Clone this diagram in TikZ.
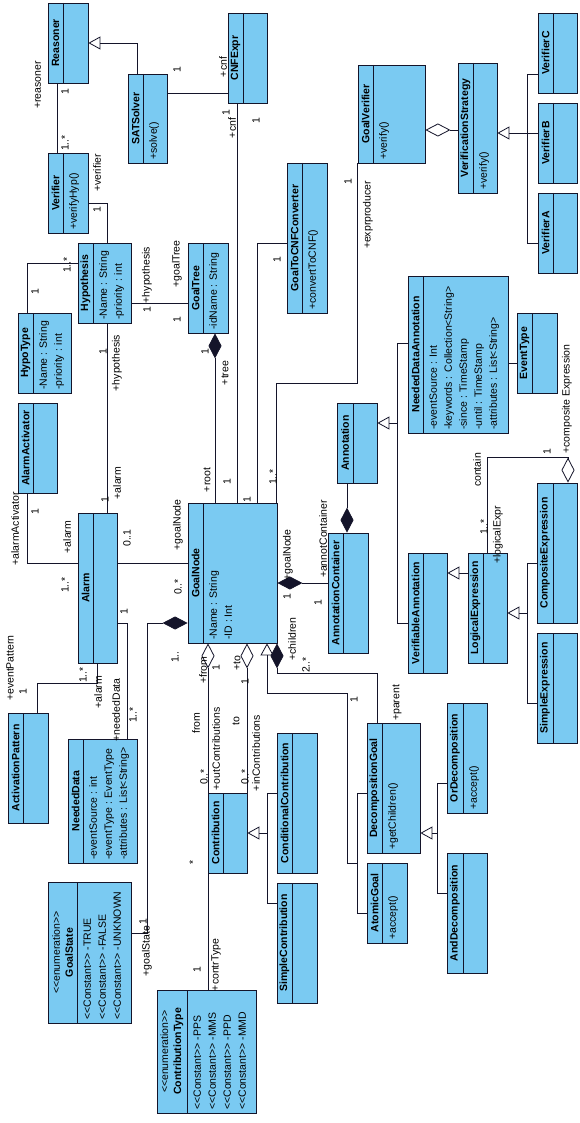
\documentclass[tikz,border=0pt]{standalone}
\usepackage{fontspec}
\setmainfont{Liberation Sans}
\usetikzlibrary{arrows.meta}
\definecolor{cFill}{RGB}{122,202,242}
\definecolor{cLine}{HTML}{14142A}
\newcommand{\st}[1]{<\kern0pt<#1>\kern0pt>}
\tikzset{
  cls/.style={rectangle,draw=cLine,line width=.8pt,fill=cFill,inner sep=0pt},
  clsname/.style={rotate=90,inner sep=0pt,align=center,
                  font=\fontsize{10.5}{13}\selectfont\bfseries},
  clsattr/.style={rotate=90,inner sep=0pt,anchor=base west,
                  font=\fontsize{10.5}{13}\selectfont},
  lbl/.style={rotate=90,inner sep=0pt,font=\fontsize{10.5}{13}\selectfont},
  conn/.style={line width=.8pt,draw=cLine},
  gen/.style={conn,-{Triangle[open,length=12pt,width=13pt]}},
  aggr/.style={conn,{Diamond[open,length=25pt,width=13pt]}-},
  comp/.style={conn,{Diamond[length=25pt,width=13pt]}-},
}
% name, x0, y0, x1, y1, split, title, attributes (pixel coordinates)
\newcommand{\umlclass}[8]{%
  \node[cls,minimum width={(#4-#2)*1pt},minimum height={(#5-#3)*1pt}]
    (#1) at ({(#2+#4)/2},{(#3+#5)/2}) {};
  \draw[conn] (#6,#3) -- (#6,#5);
  \node[clsname] (#1-t) at ({(#2+#6)/2},{(#3+#5)/2}) {#7};
  \if\relax\detokenize{#8}\relax\else
    \foreach \a [count=\i from 0] in {#8}
      {\node[clsattr] (#1-a\i) at ({#6+13.8+15*\i},{#5-3}) {\a};}%
  \fi}
\begin{document}
\begin{tikzpicture}[x=1pt,y=-1pt]
  \useasboundingbox (0,0) rectangle (580,1123);
  \fill[white] (0,0) rectangle (580,1123);
  % classes
  \umlclass{Reasoner}{48}{3}{88}{83}{63}{Reasoner}{}
  \umlclass{SATSolver}{128}{74}{167}{163}{143}{SATSolver}{+solve()}
  \umlclass{CNFExpr}{228}{13}{267}{103}{243}{CNFExpr}{}
  \umlclass{Verifier}{48}{153}{88}{233}{63}{Verifier}{+verifyHyp()}
  \umlclass{GoalVerifier}{358}{65}{425}{163}{373}{GoalVerifier}{+verify()}
  \umlclass{VerStrategy}{458}{63}{497}{193}{473}{VerificationStrategy}{+verify()}
  \umlclass{VerifierC}{538}{13}{577}{93}{553}{VerifierC}{}
  \umlclass{VerifierB}{538}{103}{577}{183}{553}{VerifierB}{}
  \umlclass{VerifierA}{538}{193}{577}{273}{553}{VerifierA}{}
  \umlclass{Hypothesis}{78}{243}{131}{323}{93}{Hypothesis}{-Name : String,-priority : int}
  \umlclass{HypoType}{18}{313}{71}{393}{33}{HypoType}{-Name : String,-priority : int}
  \umlclass{GoalTree}{188}{243}{228}{333}{203}{GoalTree}{-idName : String}
  \umlclass{Converter}{287}{163}{327}{313}{302}{GoalToCNFConverter}{+convertToCNF()}
  \umlclass{NDAnnot}{408}{276}{508}{433}{423}{NeededDataAnnotation}{-eventSource : Int,-keywords : Collection<String>,-since : TimeStamp,-until : TimeStamp,-attributes : List<String>}
  \umlclass{EventType}{517}{313}{557}{393}{532}{EventType}{}
  \umlclass{Annotation}{337}{403}{377}{483}{353}{Annotation}{}
  \umlclass{AlarmAct}{18}{403}{57}{493}{33}{AlarmActivator}{}
  \umlclass{Alarm}{78}{513}{117}{663}{93}{Alarm}{}
  \umlclass{GoalNode}{188}{503}{277}{643}{203}{GoalNode}{-Name : String,-ID : Int}
  \umlclass{AnnotCont}{328}{533}{368}{653}{343}{AnnotationContainer}{}
  \umlclass{VerAnnot}{408}{553}{447}{673}{423}{VerifiableAnnotation}{}
  \umlclass{LogicExpr}{468}{553}{507}{663}{483}{LogicalExpression}{}
  \umlclass{CompExpr}{537}{483}{577}{623}{553}{CompositeExpression}{}
  \umlclass{SimpleExpr}{537}{633}{577}{743}{553}{SimpleExpression}{}
  \umlclass{ActPattern}{8}{713}{48}{823}{23}{ActivationPattern}{}
  \umlclass{NeededData}{68}{739}{137}{863}{83}{NeededData}{-eventSource : int,-eventType : EventType,-attributes : List<String>}
  \umlclass{Contribution}{208}{793}{247}{873}{223}{Contribution}{}
  \umlclass{CondContr}{277}{733}{317}{873}{292}{ConditionalContribution}{}
  \umlclass{SimpleContr}{277}{883}{317}{1003}{292}{SimpleContribution}{}
  \umlclass{DecompGoal}{367}{723}{420}{853}{382}{DecompositionGoal}{+getChildren()}
  \umlclass{AtomicGoal}{367}{863}{407}{943}{382}{AtomicGoal}{+accept()}
  \umlclass{OrDecomp}{447}{703}{487}{813}{463}{OrDecomposition}{+accept()}
  \umlclass{AndDecomp}{447}{853}{487}{973}{463}{AndDecomposition}{}
  \umlclass{GoalState}{48}{882}{131}{1023}{77}{{\mdseries\st{enumeration}}\\GoalState}{\st{Constant} -TRUE,\st{Constant} -FALSE,\st{Constant} -UNKNOWN}
  \umlclass{ContrType}{157}{990}{256}{1113}{187}{{\mdseries\st{enumeration}}\\ContributionType}{\st{Constant} -PPS,\st{Constant} -MMS,\st{Constant} -PPD,\st{Constant} -MMD}
  % generalizations
  \draw[gen] (SATSolver.north -| 137,0) |- (Reasoner.east |- 0,43);
  \draw[conn] (VerifierC.west |- 0,74) -| (527,133);
  \draw[conn] (VerifierA.west |- 0,243) -| (527,133);
  \draw[gen] (VerifierB.west |- 0,133) -- (VerStrategy.east |- 0,133);
  \draw[conn] (VerAnnot.west |- 0,623) -| (397,423);
  \draw[gen] (NDAnnot.west |- 0,343) -| (397,423) -- (Annotation.east |- 0,423);
  \draw[gen] (LogicExpr.west |- 0,573) -- (VerAnnot.east |- 0,573);
  \draw[conn] (CompExpr.west |- 0,563) -| (527,613);
  \draw[gen] (SimpleExpr.west |- 0,703) -| (527,613) -- (LogicExpr.east |- 0,613);
  \draw[conn] (AtomicGoal.west |- 0,913) -| (357,793) -- (DecompGoal.west |- 0,793);
  \draw[gen] (357,863) -| (347,693) -| (GoalNode.south -| 267,0);
  \draw[conn] (AndDecomp.west |- 0,893) -| (437,833);
  \draw[gen] (OrDecomp.west |- 0,783) -| (437,833) -- (DecompGoal.east |- 0,833);
  \draw[conn] (SimpleContr.west |- 0,903) -| (267,833);
  \draw[gen] (CondContr.west |- 0,793) -| (267,833) -- (Contribution.east |- 0,833);
  % associations
  \draw[conn] (Reasoner.south -| 57,0) -- (Verifier.north -| 57,0);
  \draw[conn] (SATSolver.east |- 0,93) -- (CNFExpr.west |- 0,93);
  \draw[conn] (CNFExpr.south -| 237,0) -- (GoalNode.north -| 237,0);
  \draw[conn] (Verifier.east |- 0,203) -| (Hypothesis.north -| 107,0);
  \draw[conn] (Hypothesis.west |- 0,263) -| (HypoType.north -| 27,0);
  \draw[conn] (Hypothesis.east |- 0,303) -- (GoalTree.west |- 0,303);
  \draw[conn] (Hypothesis.south -| 107,0) -- (Alarm.north -| 107,0);
  \draw[conn] (Converter.west |- 0,243) -| (GoalNode.north -| 257,0);
  \draw[conn] (GoalVerifier.south -| 357,0) -- (357,383) -| (GoalNode.north -| 276,0);
  \draw[conn] (NDAnnot.east |- 0,363) -- (EventType.west |- 0,363);
  \draw[conn] (AlarmAct.south -| 27,0) |- (Alarm.west |- 0,563);
  \draw[conn] (Alarm.east |- 0,563) -- (GoalNode.west |- 0,563);
  \draw[conn] (Alarm.south -| 97,0) -- (97,683) -| (ActPattern.north -| 37,0);
  \draw[conn] (Alarm.east |- 0,623) -| (NeededData.north -| 127,0);
  \draw[conn] (Contribution.south -| 208,0) -- (ContrType.north -| 208,0);
  % aggregations and compositions
  \draw[aggr] (GoalVerifier.east |- 0,130) -- (VerStrategy.west |- 0,130);
  \draw[aggr] (CompExpr.north -| 568,0) -- ++(0,-25) -| (LogicExpr.north -| 487,0);
  \draw[aggr] (GoalNode.south -| 208,0) -- (Contribution.north -| 208,0);
  \draw[aggr] (GoalNode.south -| 247,0) -- (Contribution.north -| 247,0);
  \draw[comp] (GoalTree.south -| 215,0) -- (GoalNode.north -| 215,0);
  \draw[comp] (AnnotCont.north -| 347,0) -- (Annotation.south -| 347,0);
  \draw[comp] (GoalNode.east |- 0,583) -- (AnnotCont.west |- 0,583);
  \draw[comp] (GoalNode.west |- 0,623) -| (147,933) -- (GoalState.east |- 0,933);
  \draw[comp] (GoalNode.south -| 277,0) -- (277,673) -| (DecompGoal.north -| 377,0);
  % role names and multiplicities
  \foreach \px/\py/\t [count=\k] in {38/85/+reasoner, 65/92/1, 65/143/1..*,
      177/70/1, 223/67/+cnf, 226/113/1, 232/128/+cnf, 256/121/1,
      97/173/+verifier, 97/210/1, 67/265/1..*, 35/292/1, 147/310/1,
      147/275/+hypothesis, 177/264/+goalTree, 177/320/1, 103/352/1,
      117/363/+hypothesis, 105/500/1, 117/483/+alarm, 205/352/1,
      225/373/+tree, 207/480/+root, 227/482/1, 277/260/1, 247/500/1,
      348/182/1, 368/215/+exprproducer, 273/477/1..*, 288/555/+goalNode,
      287/597/1, 318/603/1, 323/539/+annotContainer, 477/470/contain,
      547/452/1, 567/399/+composite Expression, 484/527/1..*,
      498/535/+logicalExpr, 35/512/1, 15/529/+alarmActivator,
      67/537/+alarm, 65/585/1..*, 127/538/0..1, 178/525/+goalNode,
      178/587/0..*, 175/657/1.., 143/922/1, 147/951/+goalState,
      10/668/+eventPattern, 23/692/1, 83/675/1..*, 98/692/+alarm,
      124/612/1, 116/710/+neededData, 133/715/1..*, 203/670/+from,
      216/668/1, 196/723/from, 204/777/0..*, 216/749/+outContributions,
      237/663/+to, 245/682/1, 236/721/to, 245/777/0..*,
      256/753/+inContributions, 292/639/+children, 306/665/2..*,
      354/700/1, 397/703/+parent, 193/862/*, 197/970/1, 216/965/+contrType}
    \node[lbl] (lab\k) at (\px,\py) {\t};
\end{tikzpicture}
\end{document}
